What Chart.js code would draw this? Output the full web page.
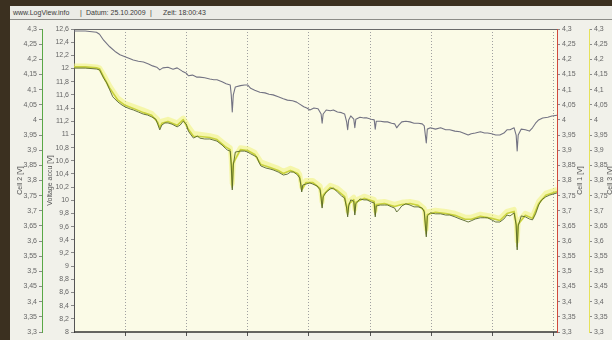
<!DOCTYPE html>
<html>
<head>
<meta charset="utf-8">
<script src="https://cdn.jsdelivr.net/npm/chart.js@4"></script>
<style>
  html, body { margin: 0; padding: 0; width: 612px; height: 340px; overflow: hidden; background: #3b3020; }
  #screen { position: absolute; left: 10px; top: 6px; width: 602px; height: 334px; background: #f1f1ea; }
  #bar { position: absolute; left: 10px; top: 6px; width: 602px; height: 13px; background: #ebebe6;
         border-bottom: 1px solid #8c8c88; font: 7px "Liberation Sans", Arial, sans-serif; color: #3a3a3a;
         line-height: 13px; white-space: nowrap; }
  #bar span { position: absolute; top: 0; }
  #plot { position: absolute; left: 10px; top: 20px; }
</style>
</head>
<body>
<div id="screen"></div>
<div id="bar">
  <span style="left:3px">www.LogView.info</span>
  <span style="left:70px">|</span>
  <span style="left:76px">Datum: 25.10.2009</span>
  <span style="left:140px">|</span>
  <span style="left:153px">Zeit: 18:00:43</span>
</div>
<canvas id="plot" width="602" height="320"></canvas>
<script>
// Time in seconds, values in volts
const timeTicks = [60, 120, 180, 240, 300, 360, 420, 480];
const voltTicks = [8, 8.2, 8.4, 8.6, 8.8, 9, 9.2, 9.4, 9.6, 9.8, 10, 10.2, 10.4, 10.6, 10.8, 11, 11.2, 11.4, 11.6, 11.8, 12, 12.2, 12.4, 12.6];
const cellTicks = [3.3, 3.35, 3.4, 3.45, 3.5, 3.55, 3.6, 3.65, 3.7, 3.75, 3.8, 3.85, 3.9, 3.95, 4, 4.05, 4.1, 4.15, 4.2, 4.25, 4.3];

// Pack voltage
const timesVolt = [10,21,32,35,39,45,51,55,60,65,68,73,78,83,87,91,94,97,102,107,111,116,120,122,126,130,133,138,143,147,150,155,159,163,164,165,166,168,173,177,180,183,187,192,197,201,205,210,215,219,224,228,231,235,238,241,245,249,252,253,254,257,261,264,268,272,275,277,278,279,281,284,285,286,290,294,297,301,304,305,306,310,314,317,321,324,326,328,331,335,339,343,347,351,353,355,356,359,364,369,374,378,383,388,393,396,399,403,408,412,415,419,423,427,431,434,437,441,443,444,445,448,452,456,459,462,465,469,474,478,483];
const voltAccu = [12.57,12.57,12.55,12.52,12.43,12.33,12.25,12.21,12.18,12.15,12.13,12.11,12.10,12.07,12.04,12.02,11.98,12.01,12.02,11.99,12.01,11.96,11.93,11.89,11.90,11.87,11.87,11.86,11.84,11.83,11.83,11.80,11.77,11.75,11.60,11.34,11.60,11.72,11.74,11.75,11.75,11.70,11.67,11.64,11.63,11.61,11.60,11.57,11.54,11.52,11.51,11.49,11.46,11.42,11.40,11.37,11.40,11.39,11.31,11.17,11.31,11.37,11.36,11.37,11.34,11.33,11.31,11.19,11.07,11.22,11.28,11.23,11.10,11.23,11.26,11.25,11.25,11.23,11.22,11.08,11.20,11.20,11.19,11.19,11.17,11.16,11.10,11.14,11.19,11.20,11.19,11.17,11.17,11.16,11.13,10.87,11.08,11.10,11.08,11.10,11.07,11.07,11.05,11.04,11.01,10.99,11.01,11.02,11.04,11.02,11.02,11.01,10.99,10.99,11.02,11.07,11.07,11.10,10.99,10.75,10.99,11.08,11.07,11.05,11.10,11.17,11.22,11.25,11.26,11.28,11.29];

// Cell 2
const timesCell2 = [10,21,32,35,39,42,45,48,53,57,60,65,68,73,78,82,86,90,92,94,96,99,102,106,111,114,117,120,122,124,127,131,133,138,143,146,150,155,158,160,163,164,165,166,168,173,177,180,183,187,189,191,193,198,202,205,210,215,219,222,225,229,231,232,233,234,237,241,244,248,251,252,253,254,257,261,264,268,272,275,277,278,279,281,284,285,286,290,294,297,301,304,305,306,310,314,317,321,324,326,328,331,335,339,343,347,351,353,355,356,359,364,369,374,378,383,388,393,396,399,403,408,412,415,419,423,427,431,434,437,441,443,444,445,448,452,456,459,462,465,468,472,476,483];
const cell2 = [4.171,4.171,4.168,4.165,4.138,4.122,4.099,4.076,4.059,4.049,4.043,4.036,4.033,4.026,4.019,4.016,4.010,4.003,3.986,3.967,3.983,3.990,3.990,3.986,3.977,3.983,3.996,3.986,3.963,3.953,3.940,3.947,3.940,3.937,3.937,3.934,3.930,3.917,3.907,3.901,3.897,3.851,3.769,3.851,3.894,3.897,3.897,3.894,3.888,3.881,3.878,3.861,3.848,3.841,3.838,3.835,3.828,3.818,3.821,3.828,3.828,3.818,3.808,3.788,3.762,3.785,3.788,3.792,3.788,3.782,3.769,3.742,3.709,3.746,3.762,3.772,3.775,3.762,3.749,3.742,3.709,3.680,3.716,3.736,3.732,3.686,3.723,3.739,3.736,3.736,3.729,3.726,3.680,3.716,3.719,3.719,3.719,3.713,3.709,3.696,3.703,3.716,3.723,3.719,3.713,3.713,3.709,3.696,3.614,3.683,3.693,3.690,3.690,3.686,3.686,3.680,3.673,3.667,3.663,3.667,3.673,3.677,3.677,3.677,3.670,3.663,3.663,3.673,3.686,3.683,3.693,3.653,3.571,3.650,3.683,3.680,3.673,3.670,3.690,3.719,3.736,3.746,3.752,3.759];

// Cell 1 and Cell 3 (logged at a coarser rate)
const timesCell13 = [10,21,32,35,39,45,53,60,68,78,86,92,94,96,102,111,117,122,127,133,143,150,158,163,164,165,166,173,180,187,193,202,210,215,222,229,231,232,233,237,244,251,252,253,254,261,268,275,277,278,279,284,285,286,294,301,304,305,306,314,324,331,339,347,353,355,356,364,374,383,393,399,408,419,427,434,441,443,444,445,452,459,465,472,483];
const cell1 = [4.175,4.175,4.172,4.169,4.143,4.105,4.065,4.048,4.038,4.024,4.015,3.992,3.974,3.989,3.995,3.982,4.001,3.969,3.946,3.945,3.942,3.935,3.912,3.902,3.858,3.778,3.857,3.902,3.899,3.886,3.853,3.843,3.833,3.823,3.833,3.823,3.813,3.793,3.768,3.793,3.793,3.774,3.748,3.716,3.752,3.777,3.767,3.747,3.715,3.688,3.722,3.737,3.694,3.728,3.741,3.734,3.731,3.688,3.721,3.724,3.714,3.721,3.724,3.718,3.701,3.624,3.688,3.695,3.691,3.685,3.672,3.672,3.682,3.675,3.668,3.691,3.698,3.659,3.582,3.656,3.685,3.675,3.724,3.751,3.764];
const cell3 = [4.178,4.178,4.175,4.172,4.150,4.112,4.072,4.055,4.045,4.032,4.022,4.002,3.985,3.996,4.002,3.990,4.006,3.978,3.955,3.953,3.948,3.942,3.920,3.908,3.870,3.790,3.868,3.908,3.905,3.893,3.862,3.850,3.840,3.830,3.840,3.830,3.820,3.800,3.778,3.800,3.800,3.782,3.758,3.728,3.760,3.784,3.775,3.755,3.725,3.700,3.730,3.745,3.705,3.735,3.748,3.741,3.738,3.700,3.728,3.731,3.721,3.728,3.731,3.725,3.708,3.640,3.696,3.702,3.698,3.692,3.679,3.679,3.689,3.682,3.675,3.698,3.705,3.668,3.600,3.664,3.692,3.682,3.731,3.758,3.771];

const pts = (xs, ys) => xs.map((x, i) => ({ x: x, y: ys[i] }));
const comma = v => String(v).replace('.', ',');
const FONT = { family: '"Liberation Sans", Arial, sans-serif', size: 7 };

function yAxis(pos, weight, min, max, list, color, width, title, titlePad) {
  return {
    type: 'linear', position: pos, weight: weight, min: min, max: max,
    afterBuildTicks: s => { s.ticks = list.map(v => ({ value: v })); },
    afterFit: s => { s.width = width; },
    ticks: { autoSkip: false, font: FONT, color: '#666', padding: 2, callback: v => comma(v) },
    grid: { drawOnChartArea: false, tickLength: 3, tickColor: '#8a8a8a' },
    border: { color: color, width: 1 },
    title: { display: !!title, text: title || '', font: FONT, color: '#555', padding: { top: titlePad, bottom: 0 } }
  };
}

// plot background, frame and right-hand axis titles
const decor = {
  id: 'decor',
  beforeDraw(chart) {
    const { ctx, chartArea: a } = chart;
    ctx.save();
    ctx.fillStyle = '#fbfbe7';
    ctx.fillRect(a.left, a.top, a.right - a.left, a.bottom - a.top);
    ctx.restore();
  },
  afterDatasetsDraw(chart) {
    const { ctx, chartArea: a } = chart;
    ctx.save();
    ctx.strokeStyle = '#6a6a6a'; ctx.lineWidth = 1;
    ctx.beginPath(); ctx.moveTo(a.left, a.top + 0.5); ctx.lineTo(a.right, a.top + 0.5); ctx.stroke();
    ctx.strokeStyle = '#333'; ctx.lineWidth = 1.5;
    ctx.beginPath(); ctx.moveTo(a.left, a.bottom); ctx.lineTo(a.right, a.bottom); ctx.stroke();
    ctx.restore();
  },
  afterDraw(chart) {
    const { ctx, chartArea: a, scales } = chart;
    const cy = (a.top + a.bottom) / 2;
    ctx.save();
    ctx.font = '7px "Liberation Sans", Arial, sans-serif';
    ctx.fillStyle = '#555';
    ctx.textAlign = 'center'; ctx.textBaseline = 'middle';
    [[scales.yCell1.right - 9, 'Cell 1 [V]'], [scales.yCell3.right - 2, 'Cell 3 [V]']].forEach(([x, t]) => {
      ctx.save(); ctx.translate(x, cy); ctx.rotate(-Math.PI / 2); ctx.fillText(t, 0, 0); ctx.restore();
    });
    ctx.restore();
  }
};

new Chart(document.getElementById('plot'), {
  type: 'line',
  data: {
    datasets: [
      { label: 'Voltage accu', data: pts(timesVolt, voltAccu), yAxisID: 'yVolt', borderColor: '#737383', borderWidth: 1.1, order: 0 },
      { label: 'Cell 2', data: pts(timesCell2, cell2), yAxisID: 'yCell2', borderColor: '#56662a', borderWidth: 0.9, order: 1 },
      { label: 'Cell 1', data: pts(timesCell13, cell1), yAxisID: 'yCell1', borderColor: '#c9d23e', borderWidth: 1.6, order: 2 },
      { label: 'Cell 3', data: pts(timesCell13, cell3), yAxisID: 'yCell3', borderColor: 'rgba(240,242,120,0.55)', borderWidth: 5, order: 3 }
    ]
  },
  options: {
    responsive: false,
    animation: false,
    parsing: false,
    layout: { padding: { top: 9, left: 0, right: 0, bottom: 0 } },
    elements: { point: { radius: 0 }, line: { tension: 0, borderJoinStyle: 'round' } },
    plugins: { legend: { display: false }, tooltip: { enabled: false } },
    scales: {
      x: {
        type: 'linear', min: 10, max: 483,
        afterBuildTicks: s => { s.ticks = timeTicks.map(v => ({ value: v })); },
        afterFit: s => { s.height = 8; },
        ticks: { display: false },
        grid: { color: '#a0a0a0', lineWidth: 1, tickLength: 4, tickColor: '#555' },
        border: { display: false, dash: [1, 2] }
      },
      yVolt: yAxis('left', 0, 8, 12.6, voltTicks, '#555', 32, 'Voltage accu [V]', 4),
      yCell2: yAxis('left', 1, 3.3, 4.3, cellTicks, '#5aa846', 32, 'Cell 2 [V]', 6),
      yCell1: yAxis('right', 0, 3.3, 4.3, cellTicks, '#d04a3c', 32, null, 0),
      yCell3: yAxis('right', 1, 3.3, 4.3, cellTicks, '#e6e25a', 23, null, 0)
    }
  },
  plugins: [decor]
});
</script>
</body>
</html>
